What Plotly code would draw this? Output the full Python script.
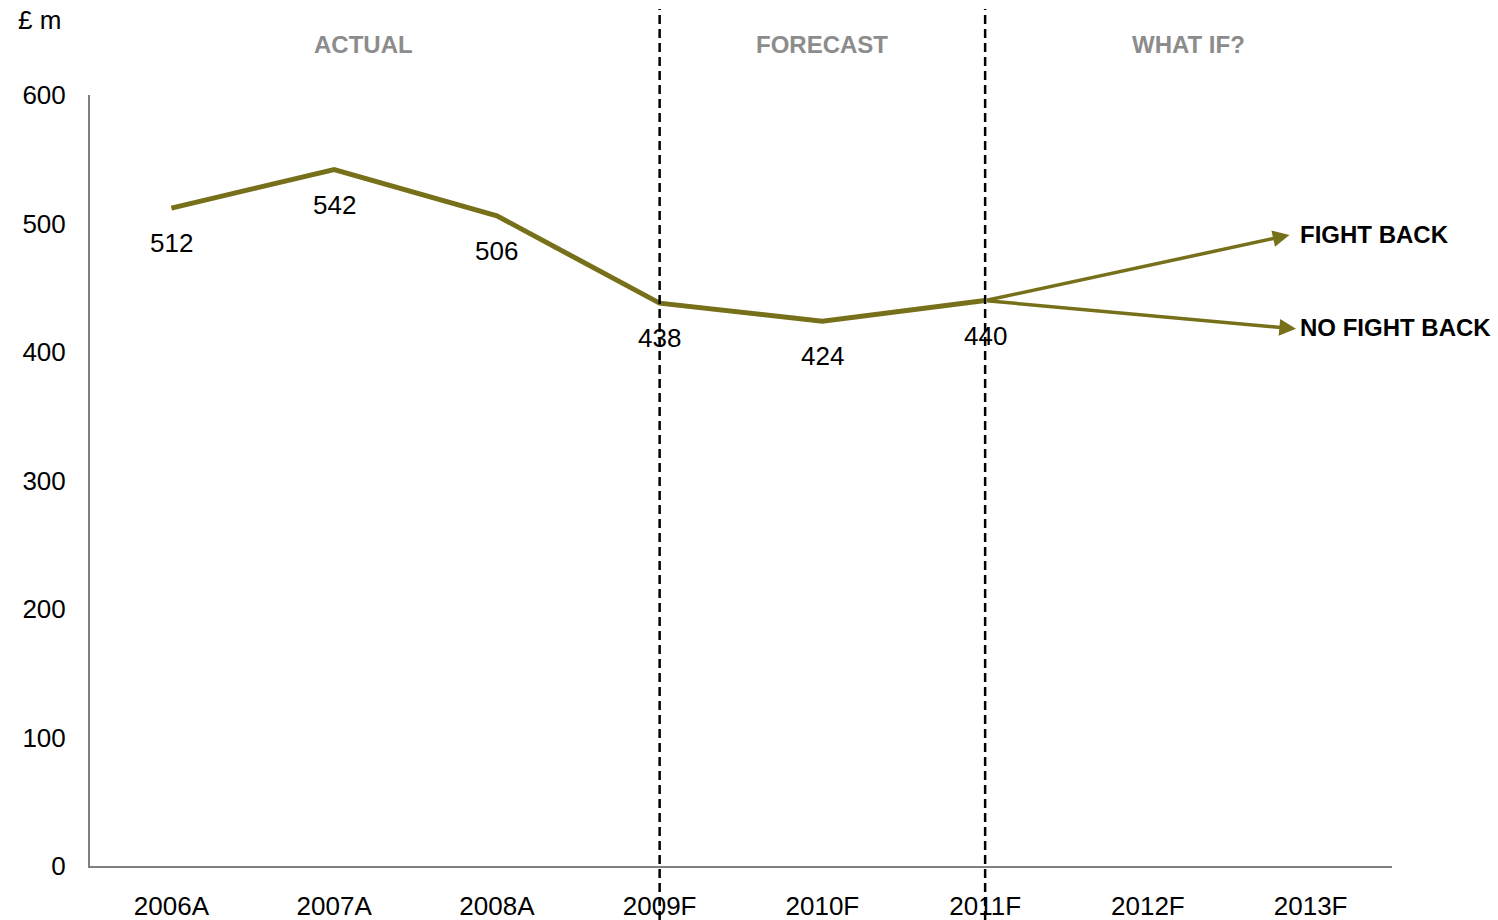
import plotly.graph_objects as go

# Revenue history and forecast (£ m)
years = ["2006A", "2007A", "2008A", "2009F", "2010F", "2011F", "2012F", "2013F"]
revenue = [512, 542, 506, 438, 424, 440]

# Scenario end points beyond 2011F
fight_back_end = 491
no_fight_back_end = 418
fight_back_pos = 6.87
no_fight_back_pos = 6.91

y_ticks = [0, 100, 200, 300, 400, 500, 600]
section_labels = ["ACTUAL", "FORECAST", "WHAT IF?"]
section_pos = [1.18, 4.0, 6.25]
divider_years = ["2009F", "2011F"]

OLIVE = "#77701A"
FONT = "Liberation Sans, Arial, sans-serif"

PLOT_TOP, PLOT_BOTTOM, PLOT_LEFT, PLOT_RIGHT = 95, 866, 90, 1392
PLOT_H = PLOT_BOTTOM - PLOT_TOP
PLOT_W = PLOT_RIGHT - PLOT_LEFT


def py(px):
    """pixel row -> paper y"""
    return (PLOT_BOTTOM - px) / PLOT_H


fig = go.Figure()

fig.add_trace(go.Scatter(
    x=years[:len(revenue)],
    y=revenue,
    mode="lines",
    line=dict(color=OLIVE, width=5),
    hoverinfo="skip",
    showlegend=False,
))

annotations = []

# value labels under each point
for yr, v in zip(years, revenue):
    annotations.append(dict(
        x=yr, y=v, xref="x", yref="y", text=str(v), showarrow=False,
        yshift=-35, font=dict(family=FONT, size=26, color="black"),
    ))

# scenario arrows from the last forecast year
start_idx = len(revenue) - 1
for end_val, end_pos, label in [
    (fight_back_end, fight_back_pos, "FIGHT BACK"),
    (no_fight_back_end, no_fight_back_pos, "NO FIGHT BACK"),
]:
    annotations.append(dict(
        x=end_pos, y=end_val, xref="x", yref="y",
        ax=start_idx, ay=revenue[-1], axref="x", ayref="y",
        showarrow=True, arrowhead=2, arrowsize=0.95, arrowwidth=3.5,
        arrowcolor=OLIVE, text="",
    ))
    annotations.append(dict(
        x=no_fight_back_pos, y=end_val, xref="x", yref="y", text="<b>" + label + "</b>",
        showarrow=False, xanchor="left", xshift=2, yshift=1,
        font=dict(family=FONT, size=24, color="black"),
    ))

# section headings
for lbl, pos in zip(section_labels, section_pos):
    annotations.append(dict(
        x=pos, y=py(44), xref="x", yref="paper", text="<b>" + lbl + "</b>",
        showarrow=False, yanchor="middle",
        font=dict(family=FONT, size=24, color="#8C8C8C"),
    ))

# unit label
annotations.append(dict(
    x=(16 - PLOT_LEFT) / PLOT_W, y=py(20), xref="paper", yref="paper",
    text="£ m", showarrow=False, xanchor="left", yanchor="middle",
    font=dict(family=FONT, size=26, color="black"),
))

shapes = []
for yr in divider_years:
    shapes.append(dict(
        type="line", xref="x", yref="paper",
        x0=yr, x1=yr, y0=py(920), y1=py(9),
        line=dict(color="black", width=2.5, dash="9px,5px"),
    ))

fig.update_layout(
    width=1498, height=920,
    margin=dict(l=PLOT_LEFT, r=1498 - PLOT_RIGHT, t=PLOT_TOP, b=920 - PLOT_BOTTOM),
    paper_bgcolor="white", plot_bgcolor="white",
    font=dict(family=FONT, size=26, color="black"),
    annotations=annotations,
    shapes=shapes,
    showlegend=False,
)

fig.update_xaxes(
    type="category", categoryorder="array", categoryarray=years,
    tickvals=years, ticktext=years,
    range=[-0.5, len(years) - 0.5],
    showline=True, linecolor="#808080", linewidth=2,
    showgrid=False, zeroline=False, ticks="",
    ticklabelstandoff=16, automargin=False,
    tickfont=dict(family=FONT, size=26, color="black"),
)
fig.update_yaxes(
    range=[0, 600], tickvals=y_ticks,
    showline=True, linecolor="#808080", linewidth=2,
    showgrid=False, zeroline=False, ticks="",
    ticklabelstandoff=17, automargin=False,
    tickfont=dict(family=FONT, size=26, color="black"),
)

fig.write_html("out.html")
